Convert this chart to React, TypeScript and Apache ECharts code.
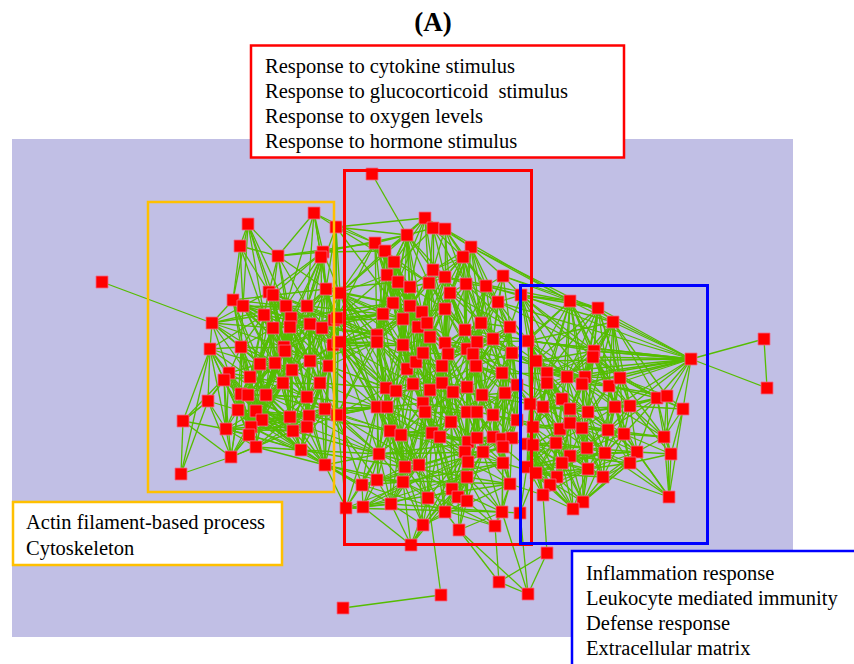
import React, { useEffect, useRef } from "react";
import * as echarts from "echarts";

// Node positions (x, y) in the picture's coordinate space
const nodeX: number[] = [
  102, 248, 240, 278, 314, 323, 321, 336, 233, 243, 269, 273, 326, 286, 307, 212, 264, 291, 273, 290,
  310, 322, 334, 210, 241, 284, 285, 333, 260, 275, 292, 310, 329, 229, 224, 250, 283, 320, 208, 241,
  248, 266, 307, 238, 256, 262, 290, 309, 325, 183, 226, 251, 249, 293, 307, 256, 301, 231, 325, 181,
  372, 425, 433, 445, 407, 375, 385, 471, 463, 394, 433, 503, 387, 398, 410, 429, 445, 466, 486, 340,
  450, 498, 393, 410, 422, 383, 403, 445, 481, 465, 510, 418, 427, 493, 377, 377, 403, 430, 445, 467,
  477, 512, 337, 338, 407, 416, 423, 448, 473, 442, 476, 502, 413, 386, 396, 430, 442, 453, 467, 482,
  505, 517, 377, 387, 423, 425, 467, 477, 493, 337, 451, 517, 390, 401, 432, 440, 468, 477, 493, 502,
  512, 465, 483, 503, 468, 503, 379, 405, 419, 467, 403, 377, 362, 510, 452, 458, 467, 428, 346, 363,
  391, 445, 502, 423, 459, 495, 411,
  521, 570, 598, 613, 528, 594, 593, 691, 764, 767, 536, 547, 547, 567, 585, 582, 609, 620, 562, 530,
  543, 570, 588, 615, 630, 657, 667, 683, 533, 560, 570, 582, 608, 624, 664, 527, 533, 556, 587, 605,
  637, 671, 570, 562, 630, 527, 536, 588, 557, 603, 550, 543, 583, 573, 669, 520,
  441, 343, 499, 528, 547,
];
const nodeY: number[] = [
  282, 224, 246, 256, 213, 252, 257, 227, 300, 306, 292, 295, 289, 306, 306, 323, 315, 318, 328, 327,
  324, 328, 320, 349, 347, 347, 351, 345, 364, 363, 370, 361, 366, 373, 380, 377, 383, 383, 401, 394,
  395, 395, 397, 410, 411, 420, 417, 416, 409, 421, 429, 427, 435, 431, 427, 447, 450, 457, 465, 474,
  174, 218, 228, 229, 235, 243, 251, 247, 257, 262, 270, 276, 275, 282, 287, 283, 277, 284, 286, 293,
  293, 302, 303, 306, 312, 314, 319, 309, 323, 330, 327, 327, 323, 339, 335, 342, 345, 337, 343, 349,
  342, 353, 318, 342, 369, 362, 353, 354, 354, 366, 366, 373, 384, 388, 391, 390, 383, 392, 387, 395,
  393, 385, 407, 407, 403, 412, 412, 412, 415, 415, 422, 420, 431, 435, 433, 437, 442, 438, 437, 439,
  438, 452, 452, 447, 462, 463, 454, 467, 465, 477, 482, 480, 485, 484, 489, 497, 501, 498, 508, 507,
  504, 512, 512, 525, 530, 526, 545,
  295, 301, 308, 322, 341, 351, 357, 359, 339, 388, 361, 373, 383, 377, 377, 384, 386, 378, 399, 404,
  407, 409, 412, 407, 406, 398, 396, 409, 427, 429, 423, 428, 430, 434, 437, 444, 445, 443, 448, 453,
  452, 454, 456, 463, 463, 467, 473, 469, 477, 477, 485, 495, 502, 509, 497, 513,
  595, 608, 582, 594, 553,
];

// Adjacency: first number is the source node, the rest are its targets
const adjacency: number[][] = [
  [0, 15], [1, 2, 8, 9, 10, 11, 3, 16, 13], [2, 8, 9, 10, 3, 16], [3, 10, 11, 13, 14, 17, 12, 5, 65],
  [4, 5, 6, 7, 12, 14, 3, 13, 65], [5, 6, 10, 11, 13, 14, 12, 20, 79, 64, 66], [6, 14, 17, 19, 12, 21, 22],
  [7, 12, 22, 79, 65, 82, 14, 69, 102, 64, 61], [8, 9, 15, 16, 24, 18, 28], [9, 16, 10, 24, 13, 18, 29],
  [10, 11, 13, 16, 17, 19, 14, 20, 18], [11, 13, 17, 14, 25, 26], [12, 14, 20, 21, 22, 27, 79, 85, 82, 73],
  [13, 17, 19, 14, 20, 25, 26, 30], [14, 20, 21, 22, 31, 27, 79, 102, 85], [15, 23, 24, 9, 16, 18, 28],
  [16, 18, 24, 28, 29, 25, 19], [17, 19, 20, 25, 26, 29, 30, 31, 82], [18, 19, 24, 25, 28, 29, 35, 41],
  [19, 20, 21, 25, 26, 30, 31, 36], [20, 21, 22, 27, 31, 32, 102, 94, 85], [21, 22, 27, 32, 37, 102, 103, 85, 94],
  [22, 27, 79, 102, 103, 94, 95, 86], [23, 24, 33, 34, 28, 38, 49, 59], [24, 28, 33, 35, 29, 39, 25],
  [25, 26, 29, 30, 36, 41, 40, 31], [26, 29, 30, 36, 31, 41, 42], [27, 31, 32, 37, 103, 95, 96, 113, 86],
  [28, 29, 35, 33, 39, 40, 41], [29, 30, 35, 36, 41, 44], [30, 31, 36, 37, 42, 46, 103], [31, 32, 37, 42, 47, 103, 95],
  [32, 37, 48, 103, 129, 113, 114, 122], [33, 34, 35, 38, 39, 43, 49, 50], [34, 38, 39, 43, 50, 35],
  [35, 36, 39, 40, 41, 44, 43], [36, 41, 42, 46, 44, 45, 37], [37, 42, 47, 48, 129, 103, 122, 113],
  [38, 43, 49, 50, 57, 59], [39, 40, 43, 44, 51, 52, 50], [40, 41, 44, 45, 51, 52], [41, 44, 45, 46, 53, 42],
  [42, 46, 47, 48, 53, 54, 122], [43, 44, 50, 51, 52, 55, 57], [44, 45, 51, 52, 55, 53], [45, 46, 52, 53, 55, 56, 57],
  [46, 47, 53, 54, 56, 48], [47, 48, 54, 56, 58, 129, 132], [48, 54, 58, 129, 122, 123, 146], [49, 50, 57, 59, 38],
  [50, 51, 57, 52, 55], [51, 52, 55, 56, 53], [52, 55, 57, 56], [53, 54, 56, 58], [54, 56, 58, 129, 146],
  [55, 56, 57, 58], [56, 58, 146, 152], [57, 59], [58, 146, 151, 152, 158, 129],
  [60, 64], [61, 62, 63, 64, 67, 70, 74, 75, 66, 69, 73], [62, 63, 64, 70, 75, 76, 77, 68, 72],
  [63, 67, 68, 70, 76, 80, 77, 87, 78, 168], [64, 65, 66, 69, 70, 72, 73, 74, 75], [65, 66, 69, 72, 79, 82, 85],
  [66, 69, 72, 73, 74, 82, 83], [67, 68, 77, 78, 71, 80, 88, 168, 174], [68, 70, 76, 77, 80, 78, 81],
  [69, 72, 73, 74, 82, 83, 86], [70, 74, 75, 76, 80, 84, 87, 92], [71, 78, 81, 88, 90, 93, 167, 168, 169],
  [72, 73, 79, 82, 85, 94, 86], [73, 74, 82, 83, 86, 91], [74, 75, 83, 84, 91, 92], [75, 76, 84, 87, 92, 97],
  [76, 77, 80, 87, 89, 97, 168], [77, 78, 80, 88, 89, 81], [78, 81, 88, 90, 93, 167, 170],
  [79, 102, 85, 94, 82, 95, 103], [80, 87, 88, 89, 98, 100], [81, 88, 90, 93, 100, 101, 167, 171, 172, 174],
  [82, 83, 85, 86, 94, 96], [83, 84, 86, 91, 92, 96], [84, 91, 92, 97, 87, 96], [85, 86, 94, 95, 96, 102],
  [86, 91, 94, 95, 96, 104], [87, 89, 92, 97, 98, 99], [88, 89, 90, 93, 100, 99, 177], [89, 93, 98, 99, 100, 108, 172],
  [90, 93, 101, 167, 171, 111, 120, 180], [91, 92, 96, 97, 105, 106], [92, 97, 98, 106, 107],
  [93, 100, 101, 108, 111, 110, 178], [94, 95, 102, 103, 96, 113], [95, 96, 103, 113, 114, 104],
  [96, 104, 105, 106, 114, 112], [97, 98, 106, 107, 109], [98, 99, 107, 109, 116, 100], [99, 100, 107, 108, 110, 118, 181],
  [100, 101, 108, 110, 111, 171], [101, 111, 120, 121, 171, 177, 168, 178], [102, 103, 129, 113], [103, 113, 129, 122, 114],
  [104, 105, 112, 113, 114, 115], [105, 106, 112, 115, 109], [106, 107, 109, 115, 116], [107, 109, 116, 117, 108],
  [108, 110, 118, 119, 111, 179], [109, 115, 116, 117, 124], [110, 111, 118, 119, 120, 185], [111, 120, 121, 128, 178, 186],
  [112, 114, 115, 124, 125, 123], [113, 114, 122, 123, 132], [114, 122, 123, 124, 132, 133], [115, 116, 124, 125, 134],
  [116, 117, 118, 130, 134], [117, 118, 126, 130, 135], [118, 119, 126, 127, 136], [119, 120, 127, 128, 137, 186],
  [120, 121, 128, 131, 138, 187], [121, 131, 139, 186, 187], [122, 123, 129, 132, 146, 151], [123, 132, 133, 124, 147],
  [124, 125, 133, 134], [125, 133, 134, 135, 148], [126, 127, 130, 136, 141], [127, 128, 137, 142],
  [128, 131, 137, 138, 142, 195], [129, 146, 152, 158, 122], [130, 134, 135, 136, 141], [131, 139, 140, 143, 195, 196],
  [132, 133, 146, 147, 150], [133, 134, 147, 148, 150], [134, 135, 148, 154], [135, 136, 141, 154, 157],
  [136, 137, 141, 144], [137, 138, 142, 144], [138, 139, 142, 143, 145, 202], [139, 140, 143, 145, 203],
  [140, 143, 153, 202], [141, 142, 144, 149, 154], [142, 143, 144, 145, 149], [143, 145, 153, 212],
  [144, 145, 149, 155, 156], [145, 153, 162, 213], [146, 151, 152, 147], [147, 148, 150, 160], [148, 150, 157, 160],
  [149, 156, 155, 162], [150, 151, 160, 166], [151, 152, 159, 160], [152, 158, 159], [153, 162, 165, 218],
  [154, 155, 157, 161], [155, 156, 161, 164], [156, 161, 164, 165], [157, 161, 163, 166, 223], [158, 159, 160],
  [159, 160, 166], [160, 163, 166], [161, 163, 164], [162, 165, 222, 164, 226], [163, 166], [164, 225, 226], [165, 225],
  [167, 168, 171, 177, 169, 174], [168, 169, 170, 171, 177, 178, 180, 181, 172], [169, 170, 172, 173, 180, 181, 184, 174],
  [170, 172, 173, 183, 184, 174, 191, 192, 193, 171], [171, 177, 178, 179, 180, 186, 174], [172, 173, 180, 181, 182, 184, 174],
  [173, 181, 182, 183, 184, 189], [174, 175, 176, 192, 193, 194, 184, 183, 181, 180, 177], [175, 176],
  [177, 178, 179, 180, 186, 187], [178, 179, 180, 182, 185, 187], [179, 185, 186, 187, 188, 195], [180, 181, 182, 185, 188],
  [181, 182, 183, 189, 188], [182, 183, 188, 189, 198], [183, 184, 189, 190, 199, 191], [184, 190, 191, 192, 193],
  [185, 187, 188, 196, 197, 204], [186, 187, 195, 202, 203], [187, 188, 195, 196, 203, 204], [188, 189, 196, 197, 198, 205],
  [189, 190, 197, 198, 199, 205], [190, 191, 199, 200, 206], [191, 192, 200, 207, 193], [192, 193, 194, 200, 201],
  [193, 194, 201, 221], [194, 201, 208, 221], [195, 196, 202, 203, 212, 213], [196, 197, 204, 209, 210],
  [197, 198, 204, 205, 209], [198, 199, 205, 206, 214], [199, 200, 206, 207, 214], [200, 201, 207, 211, 221],
  [201, 207, 208, 221], [202, 203, 212, 213, 218], [203, 204, 212, 213, 215], [204, 209, 210, 215, 217],
  [205, 206, 209, 214, 216], [206, 207, 211, 216, 214], [207, 208, 211, 221], [208, 211, 221], [209, 210, 215, 216, 219],
  [210, 213, 215, 217, 220], [211, 216, 221, 219], [212, 213, 218, 222], [213, 217, 218, 222], [214, 216, 219, 220],
  [215, 217, 219, 220], [216, 219], [217, 218, 220], [218, 220, 227], [219, 220], [222, 226],
  [223, 224], [225, 226, 227], [226, 227],
];

// Further edges inside the three dense clusters
const denseLinks: number[][] = [
  [8, 13, 17, 25, 35, 41, 12], [9, 17, 19, 26, 36, 14], [10, 25, 29, 30, 21, 22, 35], [11, 19, 20, 30, 31, 36, 28],
  [12, 19, 25, 31, 32, 102, 103], [13, 21, 22, 31, 35, 41, 29], [14, 26, 30, 32, 37, 103, 25], [15, 33, 29, 35, 25, 13],
  [16, 30, 31, 36, 40, 13, 20], [17, 21, 27, 32, 36, 41, 42], [18, 30, 31, 39, 40, 44, 20], [19, 27, 32, 37, 41, 42, 46],
  [20, 25, 26, 30, 36, 37, 42, 103], [21, 25, 26, 30, 31, 36, 42, 79], [22, 12, 31, 32, 37, 129, 85],
  [23, 39, 43, 50, 35, 16], [24, 36, 40, 41, 43, 44, 30], [25, 35, 42, 44, 45, 46, 32], [26, 35, 37, 44, 46, 47, 40],
  [27, 42, 47, 48, 129, 94], [28, 36, 43, 44, 45, 51, 30], [29, 39, 40, 42, 45, 46, 52], [30, 40, 41, 44, 45, 47, 53],
  [31, 36, 41, 46, 48, 53, 54], [32, 42, 47, 54, 58, 95], [33, 40, 41, 44, 51, 28], [34, 40, 44, 51, 52, 57],
  [35, 42, 45, 46, 51, 52, 53], [36, 47, 48, 51, 52, 53, 56], [37, 46, 53, 54, 56, 58], [39, 41, 45, 46, 53, 55, 57],
  [40, 42, 46, 53, 55, 56], [41, 47, 48, 51, 52, 55, 56], [42, 52, 56, 58, 129], [43, 45, 46, 53, 56],
  [44, 46, 47, 54, 56, 57], [45, 47, 48, 54, 58], [46, 51, 52, 55, 58, 129], [47, 53, 52, 55, 122, 146],
  [48, 53, 56, 132, 151], [50, 53, 56, 44, 45], [51, 54, 57, 58], [53, 55, 57, 146],
  [64, 76, 79, 82, 83, 84, 86, 91], [65, 73, 74, 83, 86, 94, 102], [66, 75, 79, 85, 86, 91, 94], [67, 70, 76, 87, 89, 93, 81],
  [68, 75, 87, 88, 89, 92, 93], [69, 75, 84, 85, 91, 92, 94, 96], [70, 77, 83, 86, 91, 97, 98], [72, 83, 84, 91, 95, 96, 102],
  [73, 85, 92, 94, 96, 97, 104], [74, 85, 86, 87, 96, 97, 105], [75, 83, 89, 91, 98, 106, 105], [76, 84, 88, 92, 98, 99, 107],
  [77, 87, 90, 93, 98, 99, 100], [78, 89, 99, 100, 101, 108], [79, 86, 96, 113, 114, 104, 122], [80, 90, 92, 97, 99, 107, 108],
  [82, 91, 92, 95, 102, 104, 105], [83, 94, 95, 97, 104, 105, 112], [84, 86, 98, 104, 105, 106, 109], [85, 103, 104, 113, 114, 112],
  [86, 97, 103, 105, 112, 113, 114], [87, 100, 106, 107, 108, 109, 116], [88, 98, 101, 108, 110, 111, 119],
  [89, 101, 107, 109, 110, 116, 118], [90, 100, 108, 110, 119, 120, 121], [91, 98, 104, 109, 112, 115, 116],
  [92, 99, 105, 109, 115, 116, 117], [93, 99, 110, 118, 119, 120, 121], [94, 104, 114, 122, 123, 129],
  [95, 105, 112, 122, 123, 129, 132], [96, 97, 113, 115, 123, 124, 125], [97, 104, 105, 115, 116, 117, 125],
  [98, 108, 110, 115, 117, 118, 126], [99, 109, 111, 116, 117, 119, 127], [100, 107, 109, 118, 119, 120, 128],
  [101, 110, 119, 128, 131, 139], [102, 94, 95, 122, 132], [103, 95, 112, 123, 132, 146],
  [104, 116, 123, 124, 125, 132, 133], [105, 113, 114, 116, 124, 125, 130], [106, 112, 117, 124, 125, 130, 134],
  [107, 115, 118, 125, 126, 130, 135], [108, 116, 117, 119, 126, 127, 136], [109, 112, 118, 125, 130, 134, 135],
  [110, 116, 117, 121, 127, 128, 137], [111, 118, 119, 127, 131, 138, 139], [112, 113, 116, 132, 133, 134, 147],
  [113, 124, 129, 133, 146, 147], [114, 115, 125, 134, 147, 148], [115, 117, 126, 130, 133, 135, 148],
  [116, 124, 125, 126, 135, 136, 141], [117, 119, 125, 127, 134, 136, 141, 144], [118, 125, 128, 130, 137, 141, 142],
  [119, 126, 130, 131, 136, 138, 142], [120, 126, 127, 137, 139, 140, 143], [121, 128, 138, 140, 143],
  [122, 133, 147, 150, 152, 158], [123, 125, 134, 146, 148, 150], [124, 126, 130, 135, 147, 148, 154],
  [125, 126, 130, 141, 147, 150, 157], [126, 135, 137, 142, 144, 149], [127, 136, 138, 141, 143, 144, 145],
  [128, 136, 139, 140, 143, 145], [130, 133, 137, 144, 148, 154, 155], [132, 134, 148, 151, 152, 160],
  [133, 135, 146, 157, 160], [134, 136, 141, 147, 150, 157, 161], [135, 137, 144, 148, 155, 161],
  [136, 138, 142, 149, 154, 155], [137, 139, 141, 143, 145, 149], [138, 140, 144, 149, 153], [139, 142, 153, 162],
  [141, 145, 148, 155, 156, 157], [142, 153, 155, 156, 162], [144, 153, 154, 161, 162], [146, 148, 150, 158, 159, 160],
  [147, 151, 157, 163], [148, 154, 161, 163], [149, 154, 161, 164, 165], [150, 152, 157, 159, 163],
  [167, 172, 178, 180, 181, 173], [168, 173, 182, 183, 184, 179, 185], [169, 177, 178, 182, 183, 189, 191],
  [170, 181, 182, 189, 190, 180], [171, 181, 185, 187, 188, 195], [172, 177, 178, 183, 188, 189, 190],
  [173, 178, 180, 188, 190, 191, 192], [174, 173, 172, 191, 201, 190, 182, 178, 171], [177, 181, 182, 185, 188, 195, 196],
  [178, 181, 186, 188, 189, 196, 197], [179, 180, 189, 196, 197, 203, 204], [180, 183, 186, 187, 189, 197, 198],
  [181, 184, 190, 197, 198, 199], [182, 190, 191, 196, 197, 199, 205], [183, 192, 193, 198, 200, 206],
  [184, 194, 199, 200, 201], [185, 186, 189, 195, 198, 205, 209], [186, 188, 196, 204, 212],
  [187, 189, 197, 202, 209, 210, 212], [188, 190, 199, 204, 206, 209, 214], [189, 191, 200, 204, 206, 207, 216],
  [190, 192, 198, 201, 205, 207, 211], [191, 194, 199, 201, 206, 208], [192, 199, 207, 208],
  [195, 197, 204, 210, 215, 218], [196, 198, 203, 205, 212, 213, 217], [197, 199, 203, 206, 210, 214, 215],
  [198, 200, 204, 207, 209, 216, 219], [199, 201, 205, 209, 211, 216], [200, 205, 206, 208, 214, 216],
  [202, 204, 210, 215, 217, 220], [203, 205, 209, 210, 217, 218], [204, 205, 212, 213, 214, 216, 219],
  [205, 207, 210, 215, 217, 219], [206, 209, 210, 213, 219, 221], [207, 209, 214, 216, 219],
  [209, 211, 212, 213, 214, 217, 220], [210, 212, 214, 216, 218, 219], [211, 214, 220, 207],
  [212, 215, 217, 219, 220], [213, 214, 215, 216, 220], [214, 215, 217, 218, 221],
];

// Long edges crossing the lower part of the red cluster
const longLinks: number[][] = [
  [158, 153, 162, 143], [159, 145, 139], [151, 141, 153], [152, 143, 165], [160, 162, 145],
  [163, 153, 149], [166, 144, 149, 141], [147, 162, 153], [150, 165, 145], [146, 142, 140],
  [56, 147], [58, 160, 150], [129, 148, 141], [122, 144, 136],
];

const titleText = "(A)";
const topLabels = [
  "Response to cytokine stimulus",
  "Response to glucocorticoid  stimulus",
  "Response to oxygen levels",
  "Response to hormone stimulus",
];
const leftLabels = ["Actin filament-based process", "Cytoskeleton"];
const rightLabels = [
  "Inflammation response",
  "Leukocyte mediated immunity",
  "Defense response",
  "Extracellular matrix",
];

const FONT = "'Liberation Serif', 'DejaVu Serif', serif";

export default function App() {
  const ref = useRef<HTMLDivElement>(null);
  useEffect(() => {
    document.body.style.margin = "0";
    if (!ref.current) return;
    const chart = echarts.init(ref.current, undefined, { renderer: "svg" });
    const nodes = nodeX.map((x, i) => ({ value: [x, nodeY[i]] }));
    const links: { source: number; target: number }[] = [];
    [...adjacency, ...denseLinks, ...longLinks].forEach((row) => {
      const s = row[0];
      row.slice(1).forEach((t) => {
        if (t !== s) links.push({ source: s, target: t });
      });
    });

    const textLines = (lines: string[], x: number, y0: number, step: number, size: number) =>
      lines.map((t, i) => ({
        type: "text",
        x,
        y: y0 + i * step,
        z: 31,
        style: {
          text: t,
          fill: "#000",
          font: `${size}px ${FONT}`,
          textVerticalAlign: "middle",
          verticalAlign: "middle",
        },
      }));

    chart.setOption({
      animation: false,
      backgroundColor: "#ffffff",
      grid: { left: 0, right: 0, top: 0, bottom: 0 },
      xAxis: { type: "value", min: 0, max: 854, show: false },
      yAxis: { type: "value", min: 0, max: 664, inverse: true, show: false },
      graphic: [
        { type: "rect", z: -10, shape: { x: 12, y: 139, width: 781, height: 498 }, style: { fill: "#c1bfe5" } },
        { type: "rect", z: 20, shape: { x: 148, y: 202, width: 186, height: 290 }, style: { fill: "none", stroke: "#ffc000", lineWidth: 2.5 } },
        { type: "rect", z: 20, shape: { x: 344.5, y: 170.5, width: 187, height: 374 }, style: { fill: "none", stroke: "#ff0000", lineWidth: 3 } },
        { type: "rect", z: 20, shape: { x: 520.5, y: 285.5, width: 187, height: 258 }, style: { fill: "none", stroke: "#0000ff", lineWidth: 3 } },
        { type: "rect", z: 30, shape: { x: 251, y: 45.5, width: 373, height: 112 }, style: { fill: "#ffffff", stroke: "#ff0000", lineWidth: 2.5 } },
        { type: "rect", z: 30, shape: { x: 13, y: 502, width: 269, height: 63 }, style: { fill: "#ffffff", stroke: "#ffc000", lineWidth: 2.5 } },
        { type: "rect", z: 30, shape: { x: 572, y: 551, width: 290, height: 120 }, style: { fill: "#ffffff", stroke: "#0000ff", lineWidth: 2.5 } },
        {
          type: "text", x: 433, y: 22, z: 31,
          style: { text: titleText, fill: "#000", font: `bold 27px ${FONT}`, align: "center", verticalAlign: "middle", textAlign: "center", textVerticalAlign: "middle" },
        },
        ...textLines(topLabels, 265, 66, 25, 20.5),
        ...textLines(leftLabels, 26, 522, 26, 20.5),
        ...textLines(rightLabels, 586, 573, 25, 20.5),
      ],
      series: [
        {
          type: "graph",
          coordinateSystem: "cartesian2d",
          layout: "none",
          z: 5,
          symbol: "rect",
          symbolSize: 12,
          data: nodes,
          links,
          itemStyle: { color: "#ff0000", borderColor: "#f06a8a", borderWidth: 0.8 },
          lineStyle: { color: "#55bd00", width: 1.3, opacity: 1, curveness: 0 },
          label: { show: false },
          emphasis: { disabled: true },
          silent: true,
        },
      ],
    });
    return () => chart.dispose();
  }, []);
  return <div ref={ref} style={{ width: 854, height: 664 }} />;
}
